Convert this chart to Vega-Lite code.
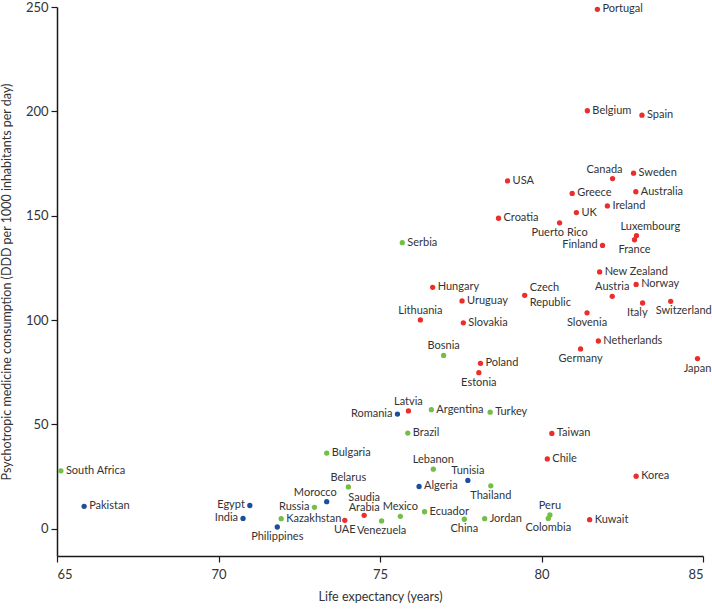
{
  "$schema": "https://vega.github.io/schema/vega-lite/v6.json",
  "autosize": {"type": "none"},
  "width": 646,
  "height": 549,
  "padding": {"left": 57, "top": 7, "right": 9, "bottom": 53},
  "background": "white",
  "config": {
    "view": {"stroke": null},
    "font": "Lato",
    "axis": {
      "domainColor": "#1a1a1a",
      "domainWidth": 1.5,
      "tickColor": "#1a1a1a",
      "tickWidth": 1.2,
      "grid": false,
      "labelFont": "Lato",
      "labelFontSize": 13,
      "labelColor": "#333333",
      "titleFont": "Lato",
      "titleFontSize": 12.5,
      "titleFontWeight": "normal",
      "titleColor": "#333333"
    }
  },
  "data": {
    "values": [
      {"c": "South Africa", "x": 65.12, "y": 27.8, "g": "upper", "pos": "right"},
      {"c": "Pakistan", "x": 65.84, "y": 10.8, "g": "lower", "pos": "right"},
      {"c": "Egypt", "x": 70.97, "y": 11.2, "g": "lower", "pos": "left"},
      {"c": "India", "x": 70.76, "y": 5.0, "g": "lower", "pos": "left"},
      {"c": "Kazakhstan", "x": 71.94, "y": 4.9, "g": "upper", "pos": "right"},
      {"c": "Philippines", "x": 71.82, "y": 0.9, "g": "lower", "pos": "below"},
      {"c": "Russia", "x": 72.97, "y": 10.3, "g": "upper", "pos": "left"},
      {"c": "Morocco", "x": 73.35, "y": 13.0, "g": "lower", "pos": "aboveleft"},
      {"c": "Belarus", "x": 74.02, "y": 20.1, "g": "upper", "pos": "above"},
      {"c": "Bulgaria", "x": 73.35, "y": 36.3, "g": "upper", "pos": "right"},
      {"c": "UAE", "x": 73.91, "y": 4.1, "g": "high", "pos": "below"},
      {"c": "Saudia\nArabia", "x": 74.51, "y": 6.5, "g": "high", "pos": "above2"},
      {"c": "Mexico", "x": 75.63, "y": 6.0, "g": "upper", "pos": "above"},
      {"c": "Venezuela", "x": 75.05, "y": 3.8, "g": "upper", "pos": "below"},
      {"c": "Ecuador", "x": 76.38, "y": 8.2, "g": "upper", "pos": "right"},
      {"c": "China", "x": 77.61, "y": 4.6, "g": "upper", "pos": "below"},
      {"c": "Jordan", "x": 78.24, "y": 4.9, "g": "upper", "pos": "right"},
      {"c": "Peru", "x": 80.26, "y": 6.7, "g": "upper", "pos": "above"},
      {"c": "Colombia", "x": 80.21, "y": 5.0, "g": "upper", "pos": "below"},
      {"c": "Kuwait", "x": 81.49, "y": 4.4, "g": "high", "pos": "right"},
      {"c": "Romania", "x": 75.54, "y": 55.0, "g": "lower", "pos": "left"},
      {"c": "Latvia", "x": 75.88, "y": 56.5, "g": "high", "pos": "above"},
      {"c": "Argentina", "x": 76.59, "y": 57.1, "g": "upper", "pos": "right"},
      {"c": "Turkey", "x": 78.41, "y": 55.9, "g": "upper", "pos": "right"},
      {"c": "Brazil", "x": 75.86, "y": 45.9, "g": "upper", "pos": "right"},
      {"c": "Taiwan", "x": 80.32, "y": 45.7, "g": "high", "pos": "right"},
      {"c": "Chile", "x": 80.18, "y": 33.5, "g": "high", "pos": "right"},
      {"c": "Lebanon", "x": 76.65, "y": 28.6, "g": "upper", "pos": "above"},
      {"c": "Tunisia", "x": 77.72, "y": 23.2, "g": "lower", "pos": "above"},
      {"c": "Thailand", "x": 78.43, "y": 20.6, "g": "upper", "pos": "below"},
      {"c": "Algeria", "x": 76.21, "y": 20.3, "g": "lower", "pos": "right"},
      {"c": "Korea", "x": 82.93, "y": 25.2, "g": "high", "pos": "right"},
      {"c": "New Zealand", "x": 81.80, "y": 123.1, "g": "high", "pos": "right"},
      {"c": "Hungary", "x": 76.63, "y": 115.7, "g": "high", "pos": "right"},
      {"c": "Norway", "x": 82.93, "y": 117.1, "g": "high", "pos": "right"},
      {"c": "Austria", "x": 82.19, "y": 111.4, "g": "high", "pos": "above"},
      {"c": "Uruguay", "x": 77.54, "y": 109.2, "g": "high", "pos": "right"},
      {"c": "Czech\nRepublic", "x": 79.48, "y": 111.9, "g": "high", "pos": "right2"},
      {"c": "Italy", "x": 83.13, "y": 108.2, "g": "high", "pos": "belowleft"},
      {"c": "Switzerland", "x": 84.0, "y": 109.0, "g": "high", "pos": "belowright"},
      {"c": "Lithuania", "x": 76.25, "y": 100.1, "g": "high", "pos": "above"},
      {"c": "Slovakia", "x": 77.58, "y": 98.7, "g": "high", "pos": "right"},
      {"c": "Slovenia", "x": 81.41, "y": 103.5, "g": "high", "pos": "below"},
      {"c": "Netherlands", "x": 81.76, "y": 90.0, "g": "high", "pos": "right"},
      {"c": "Germany", "x": 81.21, "y": 86.2, "g": "high", "pos": "below"},
      {"c": "Japan", "x": 84.83, "y": 81.6, "g": "high", "pos": "below"},
      {"c": "Bosnia", "x": 76.97, "y": 83.1, "g": "upper", "pos": "above"},
      {"c": "Poland", "x": 78.11, "y": 79.3, "g": "high", "pos": "right"},
      {"c": "Estonia", "x": 78.06, "y": 74.8, "g": "high", "pos": "below"},
      {"c": "Portugal", "x": 81.73, "y": 248.9, "g": "high", "pos": "right"},
      {"c": "Belgium", "x": 81.42, "y": 200.3, "g": "high", "pos": "right"},
      {"c": "Spain", "x": 83.11, "y": 198.2, "g": "high", "pos": "right"},
      {"c": "Canada", "x": 82.20, "y": 167.8, "g": "high", "pos": "aboveleft"},
      {"c": "Sweden", "x": 82.85, "y": 170.4, "g": "high", "pos": "right"},
      {"c": "USA", "x": 78.95, "y": 166.7, "g": "high", "pos": "right"},
      {"c": "Greece", "x": 80.95, "y": 160.7, "g": "high", "pos": "right"},
      {"c": "Australia", "x": 82.92, "y": 161.5, "g": "high", "pos": "right"},
      {"c": "Ireland", "x": 82.04, "y": 154.7, "g": "high", "pos": "right"},
      {"c": "UK", "x": 81.08, "y": 151.5, "g": "high", "pos": "right"},
      {"c": "Croatia", "x": 78.67, "y": 148.8, "g": "high", "pos": "right"},
      {"c": "Puerto Rico", "x": 80.56, "y": 146.6, "g": "high", "pos": "below"},
      {"c": "Luxembourg", "x": 82.94, "y": 140.5, "g": "high", "pos": "aboveright"},
      {"c": "France", "x": 82.88, "y": 138.5, "g": "high", "pos": "below"},
      {"c": "Finland", "x": 81.89, "y": 135.8, "g": "high", "pos": "left"},
      {"c": "Serbia", "x": 75.69, "y": 137.1, "g": "upper", "pos": "right"}
    ]
  },
  "encoding": {
    "x": {
      "field": "x", "type": "quantitative",
      "scale": {"domain": [65, 85], "nice": false, "zero": false},
      "axis": {"values": [65, 70, 75, 80, 85], "title": "Life expectancy (years)", "tickSize": 6, "labelPadding": 6, "titlePadding": 9}
    },
    "y": {
      "field": "y", "type": "quantitative",
      "scale": {"domain": [-13, 250], "nice": false, "zero": false},
      "axis": {"values": [0, 50, 100, 150, 200, 250], "title": "Psychotropic medicine consumption (DDD per 1000 inhabitants per day)", "tickSize": 6, "labelPadding": 3, "titlePadding": 12}
    }
  },
  "layer": [
    {
      "mark": {"type": "circle", "size": 28, "opacity": 1},
      "encoding": {
        "color": {
          "field": "g", "type": "nominal", "legend": null,
          "scale": {"domain": ["high", "upper", "lower"], "range": ["#ec2d2a", "#72bf44", "#1b4f9c"]}
        }
      }
    },
    {
      "transform": [{"filter": "datum.pos === 'right'"}],
      "mark": {"type": "text", "align": "left", "baseline": "middle", "dx": 5, "fontSize": 11, "font": "Lato", "color": "#333333"},
      "encoding": {"text": {"field": "c"}}
    },
    {
      "transform": [{"filter": "datum.pos === 'right2'"}],
      "mark": {"type": "text", "align": "left", "baseline": "middle", "dx": 5, "dy": -7, "fontSize": 11, "font": "Lato", "color": "#333333", "lineBreak": "\n", "lineHeight": 15},
      "encoding": {"text": {"field": "c"}}
    },
    {
      "transform": [{"filter": "datum.pos === 'left'"}],
      "mark": {"type": "text", "align": "right", "baseline": "middle", "dx": -5, "fontSize": 11, "font": "Lato", "color": "#333333"},
      "encoding": {"text": {"field": "c"}}
    },
    {
      "transform": [{"filter": "datum.pos === 'above'"}],
      "mark": {"type": "text", "align": "center", "baseline": "bottom", "dy": -4, "fontSize": 11, "font": "Lato", "color": "#333333"},
      "encoding": {"text": {"field": "c"}}
    },
    {
      "transform": [{"filter": "datum.pos === 'above2'"}],
      "mark": {"type": "text", "align": "center", "baseline": "bottom", "dy": -12, "fontSize": 11, "font": "Lato", "color": "#333333", "lineBreak": "\n", "lineHeight": 10},
      "encoding": {"text": {"field": "c"}}
    },
    {
      "transform": [{"filter": "datum.pos === 'aboveleft'"}],
      "mark": {"type": "text", "align": "right", "baseline": "bottom", "dx": 10, "dy": -4, "fontSize": 11, "font": "Lato", "color": "#333333"},
      "encoding": {"text": {"field": "c"}}
    },
    {
      "transform": [{"filter": "datum.pos === 'aboveright'"}],
      "mark": {"type": "text", "align": "left", "baseline": "bottom", "dx": -16, "dy": -4, "fontSize": 11, "font": "Lato", "color": "#333333"},
      "encoding": {"text": {"field": "c"}}
    },
    {
      "transform": [{"filter": "datum.pos === 'below'"}],
      "mark": {"type": "text", "align": "center", "baseline": "top", "dy": 4, "fontSize": 11, "font": "Lato", "color": "#333333"},
      "encoding": {"text": {"field": "c"}}
    },
    {
      "transform": [{"filter": "datum.pos === 'belowleft'"}],
      "mark": {"type": "text", "align": "right", "baseline": "top", "dx": 5, "dy": 4, "fontSize": 11, "font": "Lato", "color": "#333333"},
      "encoding": {"text": {"field": "c"}}
    },
    {
      "transform": [{"filter": "datum.pos === 'belowright'"}],
      "mark": {"type": "text", "align": "left", "baseline": "top", "dx": -15, "dy": 4, "fontSize": 11, "font": "Lato", "color": "#333333"},
      "encoding": {"text": {"field": "c"}}
    }
  ]
}
